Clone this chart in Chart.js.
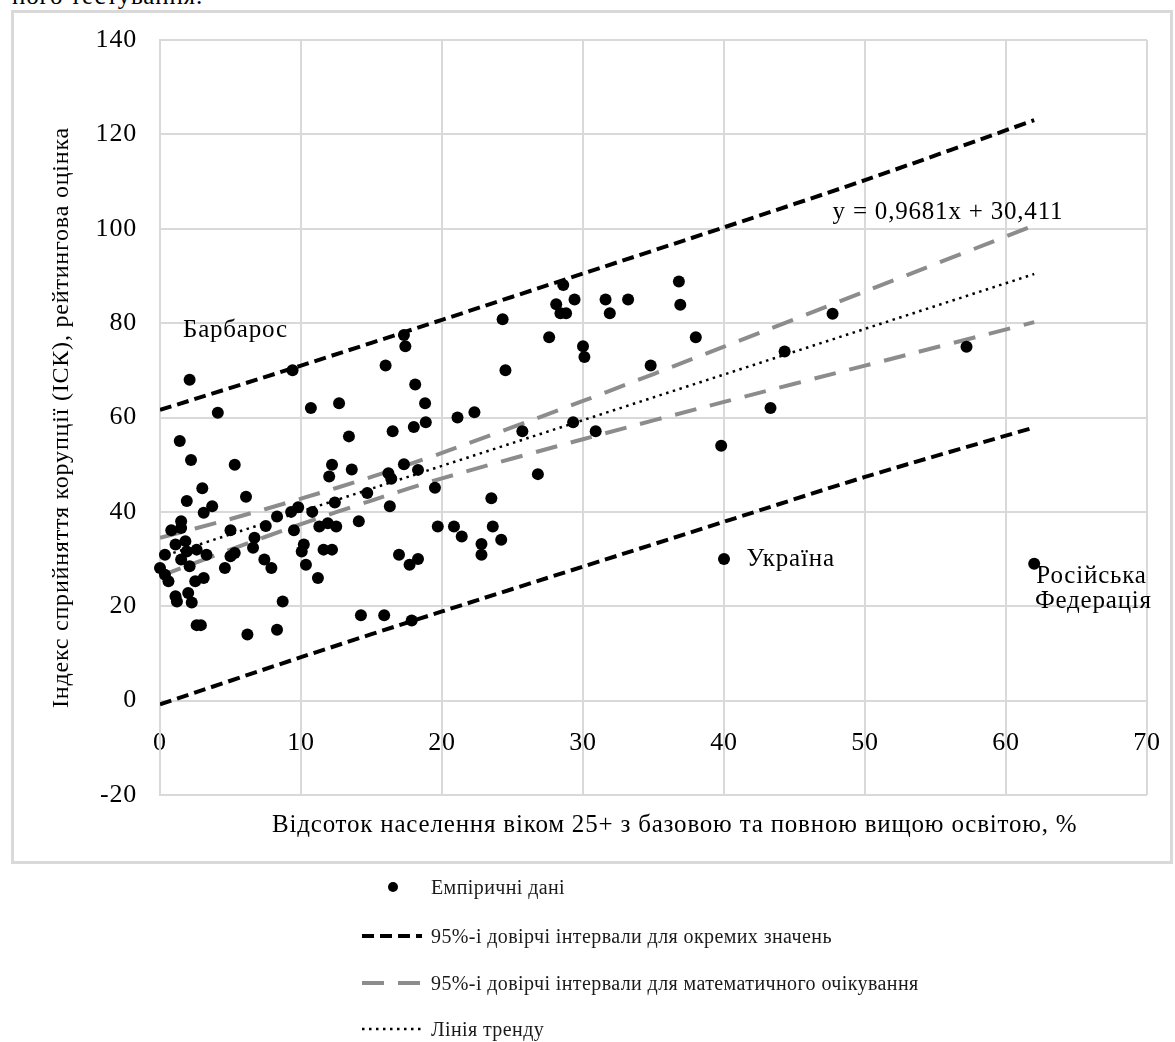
<!DOCTYPE html>
<html lang="uk">
<head>
<meta charset="utf-8">
<title>ІСК та вища освіта</title>
<script src="https://cdn.jsdelivr.net/npm/chart.js@4/dist/chart.umd.min.js"></script>
<style>
  html, body { margin: 0; padding: 0; background: #fff; }
  #wrap { position: relative; width: 1175px; height: 1042px; overflow: hidden; }
  #cut {
    position: absolute; left: 12px; top: -17px;
    font: 25px/25px "Liberation Serif", "Times New Roman", serif; color: #000;
    letter-spacing: 0.8px; white-space: nowrap;
  }
  #chart { position: absolute; left: 0; top: 0; }
</style>
</head>
<body>
<div id="wrap">
  <div id="cut">ного тестування.</div>
  <canvas id="chart" width="1175" height="1042"></canvas>
</div>
<script>
// empirical data: % of population 25+ with higher education vs CPI score
const empX = [
  2.1, 9.4, 4.1, 10.7, 12.7, 1.4, 2.2, 5.3, 13.4, 12.2, 12.0, 13.6,
  3.0, 1.9, 6.1, 3.7, 3.1, 12.4, 10.8, 9.3, 9.8, 8.3, 7.5, 1.5,
  0.8, 1.5, 5.0, 9.5, 11.3, 11.9, 12.5, 1.1, 1.8, 0.35, 1.9, 2.6,
  3.3, 1.5, 2.1, 0.0, 0.35, 0.6, 3.1, 2.5, 5.0, 5.3, 4.6, 6.7,
  6.6, 7.4, 7.9, 10.2, 10.05, 10.35, 11.6, 12.2, 11.2, 1.1, 2.0, 1.2,
  2.25, 8.7, 2.6, 2.9, 6.2, 8.3, 17.3, 17.4, 16.0, 18.1, 18.8, 24.5,
  24.3, 16.5, 18.0, 18.85, 21.1, 22.3, 25.7, 16.2, 16.4, 17.3, 18.3, 19.5,
  23.5, 14.7, 16.3, 14.1, 19.7, 20.85, 21.4, 22.8, 22.8, 23.6, 24.2, 16.95,
  17.7, 18.3, 14.25, 15.9, 17.85, 28.6, 28.1, 28.4, 28.8, 29.4, 31.6, 31.9,
  33.2, 36.8, 36.9, 27.6, 30.0, 30.1, 38.0, 34.8, 29.3, 30.9, 26.8, 39.8,
  40.0, 43.3, 44.3, 47.7, 57.2, 62.0
];
const empY = [
  68, 70, 61, 62, 63, 55, 51, 50, 56, 50, 47.5, 49,
  45, 42.3, 43.2, 41.2, 39.8, 42, 40, 40, 41, 39, 37, 38,
  36.1, 36.6, 36.1, 36.1, 36.9, 37.6, 36.9, 33.1, 33.8, 30.9, 31.6, 32,
  30.9, 29.9, 28.5, 28.1, 26.7, 25.3, 26, 25.3, 30.6, 31.3, 28.1, 34.5,
  32.4, 29.9, 28.1, 33.1, 31.6, 28.8, 32, 32, 26, 22.1, 22.8, 21,
  20.8, 21, 16, 16, 14, 15, 77.5, 75.1, 71, 67, 63, 70,
  80.8, 57.1, 58, 59, 60, 61.1, 57.1, 48.2, 47, 50.1, 48.9, 45.1,
  42.9, 44, 41.2, 38, 36.9, 36.9, 34.8, 33.2, 30.9, 36.9, 34.1, 30.9,
  28.8, 30, 18.1, 18.1, 17, 88.1, 84, 82.1, 82.1, 85, 85, 82.1,
  85, 88.8, 83.9, 77, 75.1, 72.8, 77, 71, 59, 57.1, 48, 54,
  30, 62, 74, 82, 75, 29
];

// 95% prediction interval for individual values
const predX = [0, 10, 20, 30, 40, 50, 62];
const predUpper = [61.6, 71.0, 80.7, 90.5, 100.3, 110.3, 123.0];
const predLower = [-0.8, 9.2, 18.9, 28.4, 37.9, 47.4, 57.9];

// 95% confidence interval for the mean
const meanX = [0, 5, 10, 15, 20, 30, 40, 50, 62];
const meanUpper = [34.5, 38.5, 42.8, 47.4, 52.5, 63.5, 75.0, 86.7, 100.7];
const meanLower = [26.4, 32.0, 37.4, 42.4, 47.1, 55.4, 63.3, 71.0, 80.2];

// trend line y = 0,9681x + 30,411
const trendX = [0, 62];
const trendY = [30.4, 90.4];

// tick values
const xTicks = [0, 10, 20, 30, 40, 50, 60, 70];
const yTicks = [-20, 0, 20, 40, 60, 80, 100, 120, 140];

// text notes placed at data coordinates
const noteText = ['Барбарос', 'Україна', 'Російська', 'Федерація', 'y = 0,9681x + 30,411'];
const noteX = [1.63, 41.6, 62.15, 62.05, 47.7];
const noteY = [77.1, 28.6, 25.0, 19.7, 102.1];

const FONT = '"Liberation Serif", "Times New Roman", serif';
const GRID = '#d9d9d9';

const pairs = (xs, ys) => xs.map((x, i) => ({ x: x, y: ys[i] }));

const predLabel = '95%-і довірчі інтервали для окремих значень';
const meanLabel = '95%-і довірчі інтервали для математичного очікування';

// frame, notes, axis title and the legend under the chart
const decor = {
  id: 'decor',
  beforeDraw(chart) {
    const c = chart.ctx;
    // the source text is set a little loose
    c.letterSpacing = '0.8px';
    c.save();
    c.strokeStyle = GRID;
    c.lineWidth = 3;
    c.strokeRect(12.5, 11.5, 1159, 851);
    c.restore();
  },
  afterDraw(chart) {
    const c = chart.ctx;
    const sx = chart.scales.x, sy = chart.scales.y;
    c.save();
    c.fillStyle = '#000';
    c.font = '25px ' + FONT;
    c.textAlign = 'left';
    c.textBaseline = 'alphabetic';
    noteText.forEach((t, i) => {
      c.fillText(t, sx.getPixelForValue(noteX[i]), sy.getPixelForValue(noteY[i]));
    });

    // x axis title
    c.fillText('Відсоток населення віком 25+ з базовою та повною вищою освітою, %', 272, 832);

    // legend
    const ds = chart.data.datasets;
    const rows = [0, 1, 3, 5];
    const rowY = [887, 936, 983, 1029];
    const x0 = 362, len = 60, tx = 431;
    c.font = '20px ' + FONT;
    c.letterSpacing = '0.4px';
    rows.forEach((di, r) => {
      const d = ds[di];
      const y = rowY[r];
      if (di === 0) {
        c.beginPath();
        c.arc(393, y, 5, 0, Math.PI * 2);
        c.fillStyle = d.backgroundColor;
        c.fill();
      } else {
        c.save();
        c.beginPath();
        c.setLineDash(d.borderDash);
        c.strokeStyle = d.borderColor;
        c.lineWidth = d.borderWidth;
        c.moveTo(x0, y);
        c.lineTo(x0 + len, y);
        c.stroke();
        c.restore();
      }
      c.fillStyle = '#1a1a1a';
      c.fillText(d.label, tx, y + 7);
    });
    c.restore();
  }
};

const ctx = document.getElementById('chart').getContext('2d');

new Chart(ctx, {
  type: 'scatter',
  data: {
    datasets: [
      {
        label: 'Емпіричні дані',
        data: pairs(empX, empY),
        backgroundColor: '#000',
        borderWidth: 0,
        pointRadius: 6,
        pointHoverRadius: 6,
        clip: false,
        order: 0
      },
      {
        label: predLabel,
        data: pairs(predX, predUpper),
        showLine: true,
        borderColor: '#000',
        borderWidth: 4,
        borderDash: [12, 6],
        pointRadius: 0,
        tension: 0.3,
        order: 1
      },
      {
        label: predLabel,
        data: pairs(predX, predLower),
        showLine: true,
        borderColor: '#000',
        borderWidth: 4,
        borderDash: [12, 6],
        pointRadius: 0,
        tension: 0.3,
        order: 1
      },
      {
        label: meanLabel,
        data: pairs(meanX, meanUpper),
        showLine: true,
        borderColor: '#8c8c8c',
        borderWidth: 4,
        borderDash: [22, 14],
        pointRadius: 0,
        tension: 0.3,
        order: 1
      },
      {
        label: meanLabel,
        data: pairs(meanX, meanLower),
        showLine: true,
        borderColor: '#8c8c8c',
        borderWidth: 4,
        borderDash: [22, 14],
        pointRadius: 0,
        tension: 0.3,
        order: 1
      },
      {
        label: 'Лінія тренду',
        data: pairs(trendX, trendY),
        showLine: true,
        borderColor: '#000',
        borderWidth: 2.5,
        borderDash: [2.5, 4.5],
        pointRadius: 0,
        order: 1
      }
    ]
  },
  options: {
    responsive: false,
    animation: false,
    devicePixelRatio: 1,
    layout: { padding: { left: 14, right: 28, top: 40, bottom: 247 } },
    plugins: {
      legend: { display: false },
      tooltip: { enabled: false }
    },
    scales: {
      x: {
        type: 'linear',
        min: 0,
        max: 70,
        position: { y: 0 },
        afterBuildTicks: s => { s.ticks = xTicks.map(v => ({ value: v })); },
        // labels at the ends may overhang, the outer padding is set by hand
        afterFit: s => { s.paddingLeft = 0; s.paddingRight = 0; },
        ticks: { padding: 27, color: '#000', font: { family: FONT, size: 26 } },
        grid: { color: GRID, lineWidth: 2, drawTicks: false },
        border: { color: GRID, width: 2 }
      },
      y: {
        type: 'linear',
        min: -20,
        max: 140,
        afterBuildTicks: s => { s.ticks = yTicks.map(v => ({ value: v })); },
        afterFit: s => { s.width = 146; },
        ticks: { padding: 23, color: '#000', font: { family: FONT, size: 26 } },
        grid: { color: GRID, lineWidth: 2, drawTicks: false },
        border: { color: GRID, width: 2 },
        title: {
          display: true,
          text: 'Індекс сприйняття корупції (ІСК), рейтингова оцінка',
          color: '#000',
          font: { family: FONT, size: 24 },
          padding: { top: 33, bottom: 0 }
        }
      }
    }
  },
  plugins: [decor]
});
</script>
</body>
</html>
